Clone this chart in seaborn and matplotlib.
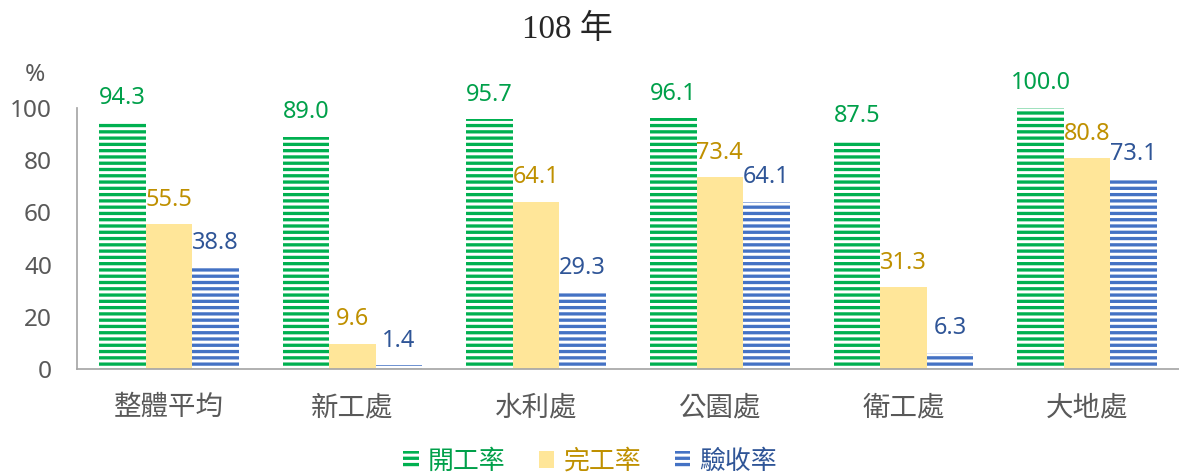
import matplotlib
matplotlib.use('Agg')
import matplotlib.pyplot as plt
import pandas as pd
import seaborn as sns

sns.set_style('white')
plt.rcParams['font.family'] = ['Noto Sans', 'Noto Sans CJK TC', 'DejaVu Sans']
plt.rcParams['hatch.linewidth'] = 1.9

units = ['整體平均', '新工處', '水利處', '公園處', '衛工處', '大地處']
metrics = ['開工率', '完工率', '驗收率']
start_rate = [94.3, 89.0, 95.7, 96.1, 87.5, 100.0]
done_rate = [55.5, 9.6, 64.1, 73.4, 31.3, 80.8]
accept_rate = [38.8, 1.4, 29.3, 64.1, 6.3, 73.1]

bar_colors = ['#00B050', '#FFE699', '#4472C4']
text_colors = ['#00A04A', '#BF9000', '#2F5597']
hatches = ['---', None, '---']

df = pd.DataFrame({
    'unit': units * 3,
    'metric': [m for m in metrics for _ in units],
    'value': start_rate + done_rate + accept_rate,
})

DPI = 113
fig = plt.figure(figsize=(1179 / DPI, 475 / DPI), dpi=DPI)
ax = fig.add_axes([77 / 1179, 106 / 475, 1102 / 1179, 261 / 475])

sns.barplot(data=df, x='unit', y='value', hue='metric', order=units, hue_order=metrics,
            palette=bar_colors, saturation=1, width=0.76, legend=False, ax=ax)

for cont, hatch, tcolor in zip(ax.containers, hatches, text_colors):
    for p in cont.patches:
        p.set_linewidth(0)
        if hatch:
            p.set_hatch(hatch)
            p.set_edgecolor('white')
    ax.bar_label(cont, fmt='%.1f', padding=8, color=tcolor, fontsize=15, clip_on=False)

ax.set_ylim(0, 100)
ax.set_xlim(-0.5, -0.5 + 1102 / 186)
ax.set_yticks([0, 20, 40, 60, 80, 100])
ax.set_xlabel('')
ax.set_ylabel('')
for s in ['top', 'right']:
    ax.spines[s].set_visible(False)
for s in ['left', 'bottom']:
    ax.spines[s].set_color('#A6A6A6')
    ax.spines[s].set_linewidth(1.1)

ax.tick_params(axis='y', direction='in', length=5, width=1.1, color='#A6A6A6',
               labelsize=15.5, labelcolor='#595959', pad=16)
ax.set_xticks(range(len(units)))
ax.set_xticklabels(units, fontsize=17.5, color='#595959', family=['Noto Sans CJK TC'])
ax.set_xticks([i - 0.5 for i in range(len(units) + 1)], minor=True)
ax.tick_params(axis='x', which='major', length=0, pad=16)
ax.tick_params(axis='x', which='minor', direction='in', length=5, width=1.1, color='#A6A6A6')

fig.text(35 / 1179, 1 - 75 / 475, '%', fontsize=15.5, color='#595959', ha='center', va='center')
fig.text(567 / 1179, 1 - 29 / 475, '108 年', fontsize=21,
         family=['Liberation Serif', 'Noto Sans CJK TC'], ha='center', va='center')

leg = fig.legend(handles=ax.containers, labels=metrics, loc='center',
                 bbox_to_anchor=(590 / 1179, 1 - 461 / 475), ncol=3, frameon=False,
                 prop={'family': 'Noto Sans CJK TC', 'size': 16.5},
                 handlelength=0.6, handleheight=0.6, handletextpad=0.35, columnspacing=1.3)
for t, c in zip(leg.get_texts(), text_colors):
    t.set_color(c)

fig.savefig('out.png', dpi=DPI)
